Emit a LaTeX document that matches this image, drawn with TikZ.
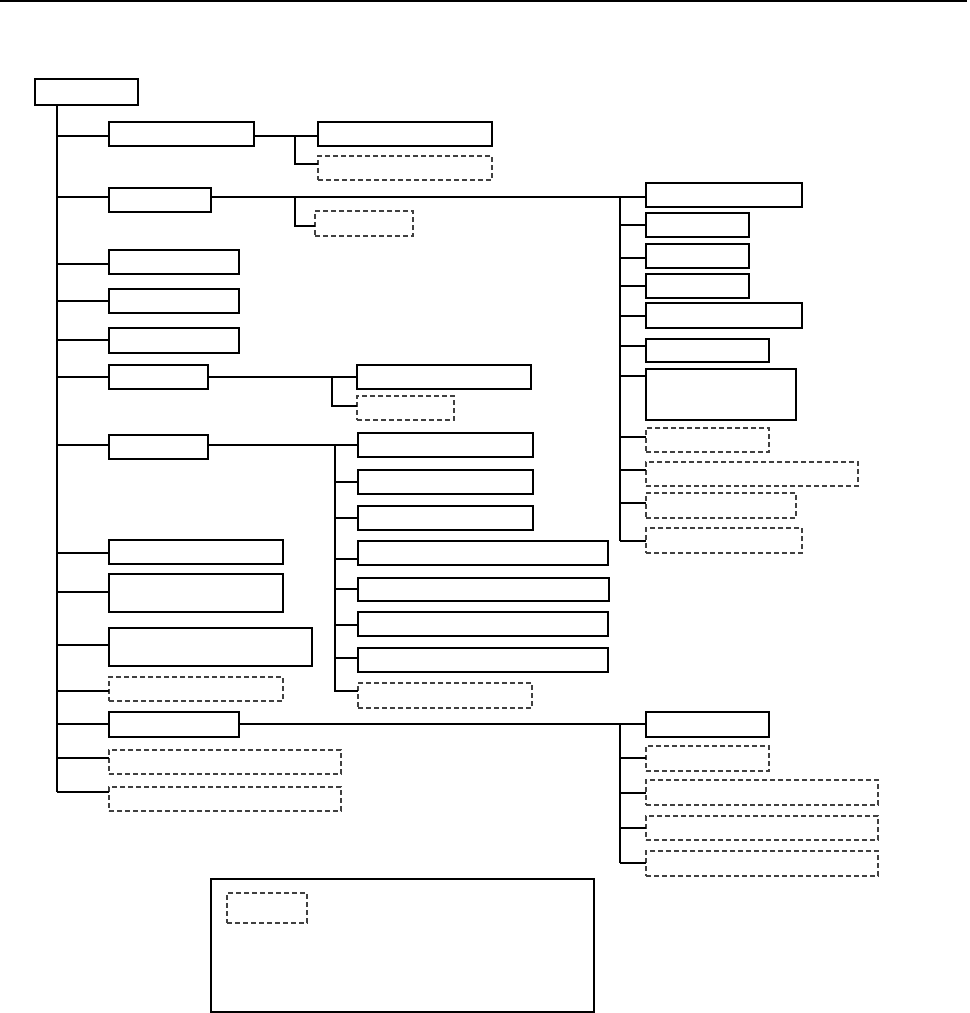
\documentclass[tikz,border=0pt]{standalone}
\begin{document}
\begin{tikzpicture}[x=1pt,y=-1pt,
  bx/.style={draw=black, line width=1.2pt, inner sep=0pt, outer sep=0pt, anchor=north west, fill=white},
  bxthick/.style={bx, line width=2.2pt},
  bxmid/.style={bx, line width=1.6pt},
  bxdash/.style={bx, draw=black!75, line width=1.6pt, dash pattern=on 5pt off 3pt},
  ln/.style={line width=1.1pt},
  lnthick/.style={line width=2.2pt}]
\useasboundingbox (0,0) rectangle (970,1013);
\newcommand{\bx}[6]{\node[#6, minimum width=#4pt-#2pt, minimum height=#5pt-#3pt] (#1) at (#2,#3) {};}
% top rule
\coordinate (tl) at (0,1);
\coordinate (tr) at (967,1);
\draw[line width=1.6pt] (tl) -- (tr);
% root
\bx{root}{35}{79}{138}{105}{bx}
% level 1
\bx{a1}{109}{122}{254}{146}{bx}
\bx{a2}{109}{188}{211}{212}{bxthick}
\bx{a3}{109}{250}{239}{274}{bx}
\bx{a4}{109}{289}{239}{313}{bx}
\bx{a5}{109}{328}{239}{353}{bx}
\bx{a6}{109}{365}{208}{389}{bx}
\bx{a7}{109}{435}{208}{459}{bxmid}
\bx{a8}{109}{540}{283}{564}{bx}
\bx{a9}{109}{574}{283}{612}{bx}
\bx{a10}{109}{628}{312}{666}{bx}
\bx{a11}{109}{677}{283}{701}{bxdash}
\bx{a12}{109}{712}{239}{737}{bx}
\bx{a13}{109}{750}{341}{774}{bxdash}
\bx{a14}{109}{787}{341}{811}{bxdash}
% children of a1, a2
\bx{a1c1}{318}{122}{492}{146}{bx}
\bx{a1c2}{318}{156}{492}{180}{bxdash}
\bx{a2c1}{315}{211}{413}{236}{bxdash}
% right group of a2
\bx{r1}{646}{183}{802}{207}{bxthick}
\bx{r2}{646}{213}{749}{237}{bx}
\bx{r3}{646}{244}{749}{268}{bxthick}
\bx{r4}{646}{274}{749}{298}{bxthick}
\bx{r5}{646}{303}{802}{328}{bxmid}
\bx{r6}{646}{339}{769}{362}{bx}
\bx{r7}{646}{369}{796}{420}{bxthick}
\bx{r8}{646}{428}{769}{452}{bxdash}
\bx{r9}{646}{462}{858}{486}{bxdash}
\bx{r10}{646}{493}{796}{518}{bxdash}
\bx{r11}{646}{528}{802}{553}{bxdash}
% children of a6
\bx{a6c1}{357}{365}{531}{389}{bxthick}
\bx{a6c2}{357}{396}{454}{420}{bxdash}
% children of a7
\bx{c1}{358}{433}{533}{457}{bx}
\bx{c2}{358}{470}{533}{494}{bx}
\bx{c3}{358}{506}{533}{530}{bx}
\bx{c4}{358}{541}{608}{565}{bx}
\bx{c5}{358}{578}{609}{601}{bxmid}
\bx{c6}{358}{612}{608}{636}{bx}
\bx{c7}{358}{648}{608}{672}{bx}
\bx{c8}{358}{683}{532}{708}{bxdash}
% children of a12
\bx{g1}{646}{712}{769}{737}{bx}
\bx{g2}{646}{746}{769}{771}{bxdash}
\bx{g3}{646}{780}{878}{805}{bxdash}
\bx{g4}{646}{816}{878}{840}{bxdash}
\bx{g5}{646}{851}{878}{876}{bxdash}
% legend
\bx{legend}{211}{879}{594}{1012}{bx}
\draw[line width=2.2pt] (legend.north west) -- (legend.north east);
\bx{legkey}{227}{893}{307}{923}{bxdash}
% trunk
\draw[ln] (root.south -| 57,0) -- (57,792);
\foreach \n/\y in {a1/136,a2/197,a3/264,a4/301,a5/340,a6/377,a7/445,a8/553,a9/592,a10/645,a11/691,a12/724,a13/758,a14/792}
  \draw[ln] (57,\y) -- (\n.west |- 0,\y);
% a1 branch
\draw[ln] (a1.east |- 0,136) -- (a1c1.west |- 0,136);
\draw[lnthick] (295,136) -- (295,164) -- (a1c2.west |- 0,164);
% a2 branch
\draw[ln] (a2.east |- 0,197) -- (r1.west |- 0,197);
\draw[lnthick] (295,197) -- (295,226) -- (a2c1.west |- 0,226);
\draw[ln] (620,197) -- (620,541);
\foreach \n/\y in {r2/225,r3/258,r4/286,r5/316,r6/346,r7/376,r9/470,r11/541}
  \draw[ln] (620,\y) -- (\n.west |- 0,\y);
\foreach \n/\y in {r8/437,r10/503}
  \draw[lnthick] (620,\y) -- (\n.west |- 0,\y);
% a6 branch
\draw[ln] (a6.east |- 0,377) -- (a6c1.west |- 0,377);
\draw[ln] (332,377) -- (332,406) -- (a6c2.west |- 0,406);
% a7 branch
\draw[ln] (a7.east |- 0,445) -- (c1.west |- 0,445);
\draw[lnthick] (335,445) -- (335,692);
\foreach \n/\y in {c2/482,c3/518,c5/589,c7/658,c8/691}
  \draw[ln] (335,\y) -- (\n.west |- 0,\y);
\foreach \n/\y in {c4/559,c6/625}
  \draw[lnthick] (335,\y) -- (\n.west |- 0,\y);
% a12 branch
\draw[ln] (a12.east |- 0,724) -- (g1.west |- 0,724);
\draw[ln] (620,724) -- (620,863);
\foreach \n/\y in {g2/758,g3/793,g4/828,g5/863}
  \draw[ln] (620,\y) -- (\n.west |- 0,\y);
\end{tikzpicture}
\end{document}
